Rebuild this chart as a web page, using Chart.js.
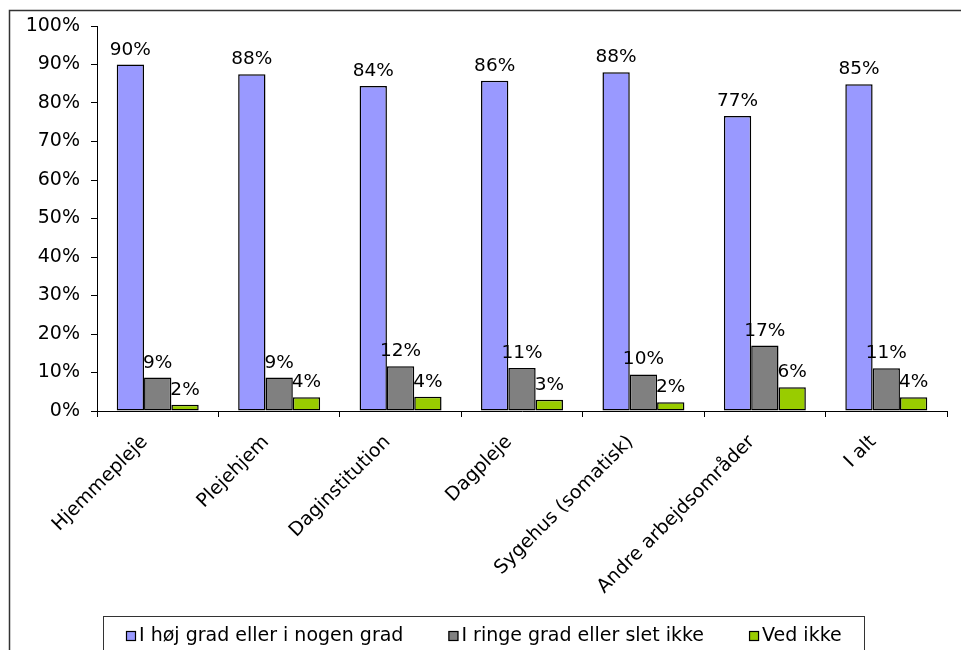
<!doctype html>
<html lang="da">
  <head>
    <meta charset="UTF-8" />
    <title>Arbejdsområder - søjlediagram</title>
    <script src="https://cdn.jsdelivr.net/npm/chart.js"></script>
    <style>
      html,
      body {
        margin: 0;
        padding: 0;
        background: #fff;
      }
      .chart-container {
        position: relative;
        width: 961px;
        height: 650px;
        overflow: hidden;
      }
    </style>
  </head>
  <body>
    <div class="chart-container">
      <canvas id="gradChart" width="961" height="650"></canvas>
    </div>

    <script>
      const categories = [
        'Hjemmepleje',
        'Plejehjem',
        'Daginstitution',
        'Dagpleje',
        'Sygehus (somatisk)',
        'Andre arbejdsområder',
        'I alt'
      ]
      const seriesNames = [
        'I høj grad eller i nogen grad',
        'I ringe grad eller slet ikke',
        'Ved ikke'
      ]
      const highValues = [90, 87.5, 84.4, 85.8, 88, 76.6, 84.9]
      const lowValues = [8.7, 8.7, 11.6, 11.2, 9.5, 17, 11.1]
      const unknownValues = [1.6, 3.6, 3.7, 2.9, 2.3, 6.2, 3.6]
      const yTicks = [0, 10, 20, 30, 40, 50, 60, 70, 80, 90, 100]

      const seriesColors = ['#9999FF', '#808080', '#99CC00']

      Chart.defaults.font.family = "'DejaVu Sans', Verdana, sans-serif"
      Chart.defaults.color = '#000'

      // hvid baggrund + ramme (kun venstre og top ses i billedet)
      const framePlugin = {
        id: 'frame',
        beforeDraw: (chart) => {
          const ctx = chart.ctx
          ctx.save()
          ctx.fillStyle = '#fff'
          ctx.fillRect(0, 0, chart.width, chart.height)
          ctx.strokeStyle = '#333'
          ctx.lineWidth = 1.5
          ctx.beginPath()
          ctx.moveTo(9.5, chart.height + 2)
          ctx.lineTo(9.5, 10.5)
          ctx.lineTo(chart.width + 2, 10.5)
          ctx.stroke()
          ctx.restore()
        }
      }

      // procent over hver søjle
      const valueLabels = {
        id: 'valueLabels',
        afterDatasetsDraw: (chart) => {
          const ctx = chart.ctx
          ctx.save()
          ctx.font = "18.5px 'DejaVu Sans'"
          ctx.fillStyle = '#000'
          ctx.textAlign = 'center'
          ctx.textBaseline = 'alphabetic'
          chart.data.datasets.forEach((dataset, i) => {
            const meta = chart.getDatasetMeta(i)
            meta.data.forEach((bar, index) => {
              const v = dataset.data[index]
              ctx.fillText(Math.round(v) + '%', bar.x, bar.y - 10)
            })
          })
          ctx.restore()
        }
      }

      // forklaring i boks nederst
      const boxLegend = {
        id: 'boxLegend',
        afterDraw: (chart) => {
          const ctx = chart.ctx
          ctx.save()
          ctx.strokeStyle = '#333'
          ctx.lineWidth = 1
          ctx.strokeRect(103.5, 616.5, 761, 60)
          ctx.font = "19px 'DejaVu Sans'"
          ctx.textBaseline = 'alphabetic'
          ctx.textAlign = 'left'
          let x = 126
          chart.data.datasets.forEach((dataset) => {
            ctx.fillStyle = dataset.backgroundColor
            ctx.fillRect(x, 631, 10, 10)
            ctx.strokeStyle = '#000'
            ctx.lineWidth = 1.2
            ctx.strokeRect(x + 0.5, 631.5, 9, 9)
            ctx.fillStyle = '#000'
            ctx.fillText(dataset.label, x + 13, 641)
            x += 13 + ctx.measureText(dataset.label).width + 45
          })
          ctx.restore()
        }
      }

      const ctx = document.getElementById('gradChart').getContext('2d')
      const gradChart = new Chart(ctx, {
        type: 'bar',
        data: {
          labels: categories,
          datasets: [highValues, lowValues, unknownValues].map((values, i) => ({
            label: seriesNames[i],
            data: values,
            backgroundColor: seriesColors[i],
            borderColor: '#000',
            borderWidth: 1.5,
            borderSkipped: false,
            categoryPercentage: 0.675,
            barPercentage: 1
          }))
        },
        options: {
          responsive: false,
          animation: false,
          devicePixelRatio: 1,
          layout: {
            padding: { left: 0, right: 14, top: 26, bottom: 0 }
          },
          plugins: {
            legend: { display: false },
            tooltip: { enabled: false }
          },
          scales: {
            x: {
              offset: true,
              grid: {
                drawOnChartArea: false,
                color: '#000',
                tickLength: 6,
                offset: true
              },
              border: { color: '#000', width: 1 },
              ticks: {
                minRotation: 45,
                maxRotation: 45,
                autoSkip: false,
                padding: 14,
                labelOffset: -13,
                font: { size: 19 },
                color: '#000'
              },
              afterFit: (axis) => {
                axis.height = 650 - 411
              }
            },
            y: {
              min: 0,
              max: 100,
              afterBuildTicks: (axis) => {
                axis.ticks = yTicks.map((v) => ({ value: v }))
              },
              grid: {
                drawOnChartArea: false,
                color: '#000',
                tickLength: 6
              },
              border: { color: '#000', width: 1 },
              ticks: {
                padding: 11,
                font: { size: 19 },
                color: '#000',
                callback: (v) => v + '%'
              },
              afterFit: (axis) => {
                axis.width = 97
              }
            }
          }
        },
        plugins: [framePlugin, valueLabels, boxLegend]
      })
    </script>
  </body>
</html>
